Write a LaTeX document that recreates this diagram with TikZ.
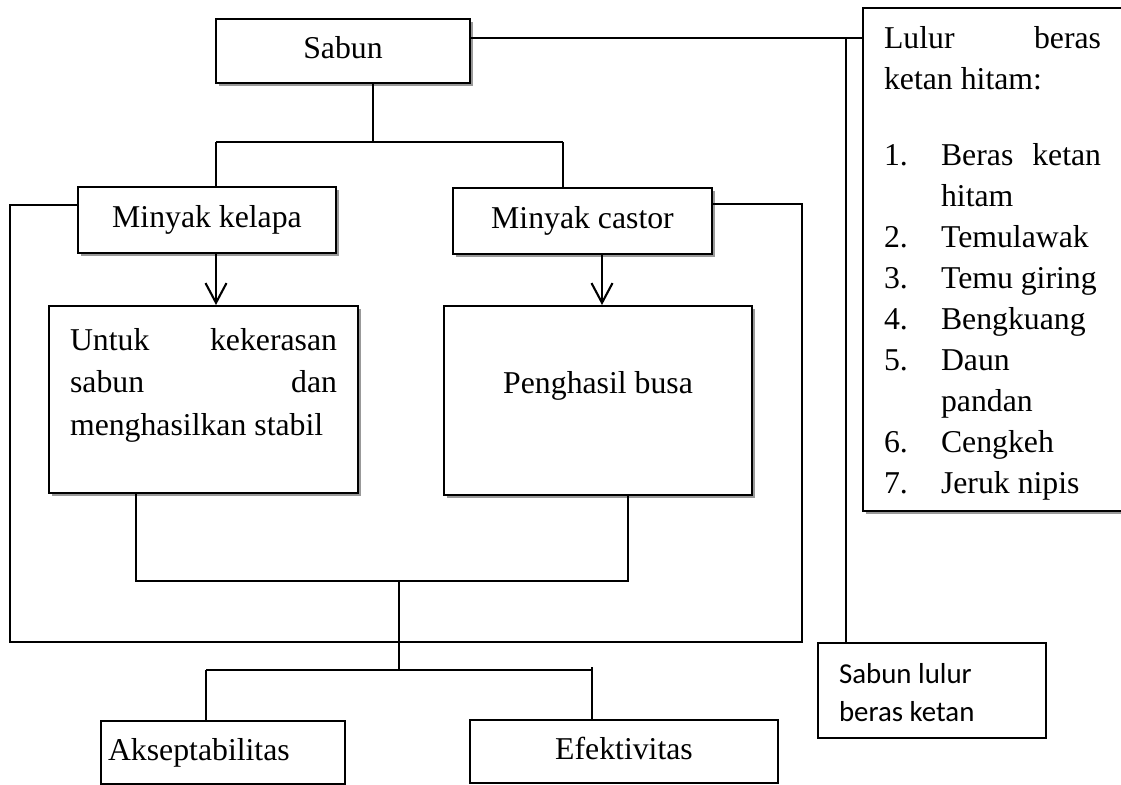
\documentclass[tikz,border=0pt]{standalone}
\usepackage{fontspec}
\setmainfont{Liberation Serif}
\newfontfamily\calibrifont{Carlito}
\usetikzlibrary{arrows.meta,shadows}
\newdimen\px \px=0.381pt

\tikzset{
  box/.style={draw, line width=0.8pt, fill=white, inner sep=0pt, align=left,
    font=\fontsize{12.1}{16.2}\selectfont},
  onebox/.style={box, text height=8.4pt, text depth=2.6pt},
  shbox/.style={box, drop shadow={shadow xshift=1.3pt, shadow yshift=-1.3pt, fill=black!40, opacity=1}},
  link/.style={line width=0.8pt},
  arr/.style={link, -{Straight Barb[length=7.5pt, width=8pt, line width=0.8pt]}},
}

\begin{document}
\begin{tikzpicture}[x=0.381pt, y=-0.381pt]
    \useasboundingbox[fill=white] (0,0) rectangle (1121,784);
    % Top box
    \node[shbox, onebox, minimum width=254\px, minimum height=64\px] (sabun) at (343,51) {Sabun};
    % Oils
    \node[shbox, onebox, minimum width=258\px, minimum height=66\px] (kelapa) at (207,220) {Minyak kelapa};
    \node[shbox, onebox, minimum width=259\px, minimum height=66\px] (castor) at (582.5,221) {Minyak castor};
    % What each oil gives
    \node[shbox, anchor=north west, inner xsep=21\px] (untuk) at (48,305)
        {\parbox[c][187\px][t]{267\px}{\vspace*{22\px}Untuk\hfill kekerasan\\ sabun\hfill dan\\ menghasilkan stabil}};
    \node[shbox, anchor=north west] (busa) at (443,305)
        {\parbox[c][189\px][t]{308\px}{\centering\vspace*{65\px}Penghasil busa}};
    % Scrub ingredients
    \node[shbox, anchor=north west, inner xsep=21\px] (lulur) at (862,7)
        {\parbox[c][503\px][t]{217\px}{\fontsize{12.1}{15.6}\selectfont
        \vspace*{18\px}Lulur\hfill beras\\
        ketan hitam:\par\vspace{36\px}
        \makebox[57\px][l]{1.}Beras\hfill ketan\\
        \hspace*{57\px}hitam\\
        \makebox[57\px][l]{2.}Temulawak\\
        \makebox[57\px][l]{3.}Temu giring\\
        \makebox[57\px][l]{4.}Bengkuang\\
        \makebox[57\px][l]{5.}Daun\\
        \hspace*{57\px}pandan\\
        \makebox[57\px][l]{6.}Cengkeh\\
        \makebox[57\px][l]{7.}Jeruk nipis\par}};
    % Product
    \node[box, anchor=north west, inner xsep=21\px, font=\calibrifont\fontsize{11}{14.5}\selectfont] (produk) at (817,642)
        {\parbox[c][95\px][t]{186\px}{\vspace*{20\px}Sabun lulur\\ beras ketan}};
    % Outcomes
    \node[box, onebox, anchor=north west, minimum height=63\px, text width=230\px, inner xsep=7\px] (akseptabilitas) at (100,720) {Akseptabilitas};
    \node[box, onebox, minimum width=308\px, minimum height=63\px, align=center] (efektivitas) at (624,751.5) {Efektivitas};

    % Sabun to the oils
    \coordinate (split) at (373,142);
    \draw[link] (sabun.south -| split) -- (split);
    \draw[link] (216,142) -- (563,142);
    \draw[link] (216,142) -- (kelapa.north -| 216,0);
    \draw[link] (563,142) -- (castor.north -| 563,0);
    % Sabun to lulur and product
    \coordinate (side) at (846,38);
    \draw[link] (sabun.east |- side) -- (side) -- (side -| lulur.west);
    \draw[link] (side) -- (side |- produk.north);
    % Arrows
    \draw[arr] (kelapa.south -| 216,0) -- (untuk.north -| 216,0);
    \draw[arr] (castor.south -| 602,0) -- (busa.north -| 602,0);
    % Frame round the oils
    \draw[link] (kelapa.west |- 0,205) -- (10,205) -- (10,642) -- (802,642) -- (802,204) -- (castor.east |- 0,204);
    % Join the two functions
    \coordinate (join) at (399,581);
    \draw[link] (untuk.south -| 136,0) -- (136,581) -- (628,581) -- (busa.south -| 628,0);
    \draw[link] (join) -- (399,670);
    \draw[link] (206,670) -- (592,670);
    \draw[link] (206,670) -- (akseptabilitas.north -| 206,0);
    \draw[link] (592,667) -- (efektivitas.north -| 592,0);
\end{tikzpicture}
\end{document}
